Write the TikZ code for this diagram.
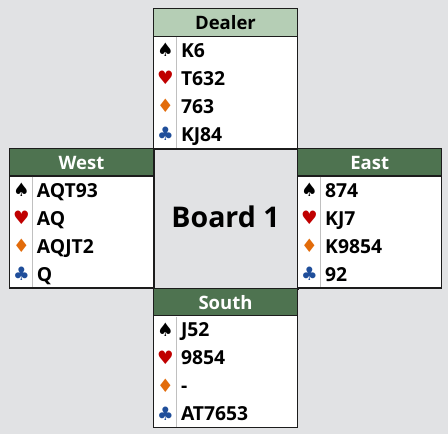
\documentclass[tikz,border=0pt]{standalone}
\usepackage{fontspec}
\setmainfont{Open Sans}
\newfontfamily\suitfont{DejaVu Sans}
\definecolor{bgc}{HTML}{E1E2E4}
\definecolor{lgreen}{HTML}{B5CEB5}
\definecolor{dgreen}{HTML}{4E7350}
\definecolor{heartc}{HTML}{C00000}
\definecolor{diamc}{HTML}{E26B0A}
\definecolor{clubc}{HTML}{1F4E9A}
\definecolor{edgec}{HTML}{1C1C1C}
\definecolor{divc}{HTML}{C0C0C0}
\tikzset{
  cardbox/.style={draw=edgec, line width=1.3pt, fill=white, minimum width=144.3pt, minimum height=139.5pt, inner sep=0pt, outer sep=0pt},
  headbox/.style={draw=edgec, line width=1.3pt, minimum width=144.3pt, minimum height=27.5pt, inner sep=0pt, outer sep=0pt},
  lighthead/.style={fill=lgreen},
  darkhead/.style={fill=dgreen},
  lightheadlab/.style={text=black},
  darkheadlab/.style={text=white},
  labtext/.style={inner sep=0pt, font=\fontsize{18.5}{18.5}\selectfont\bfseries},
  cards/.style={inner sep=0pt, font=\fontsize{19.3}{19.3}\selectfont\bfseries},
  suit/.style={inner sep=0pt, font=\suitfont\fontsize{18.5}{18.5}\selectfont},
  divider/.style={draw=divc, line width=1pt},
}
\newcommand\hand[9]{%
  \node[cardbox, anchor=north west] (#1box) at (#2,#3) {};
  \node[headbox, #5, anchor=north west] (#1head) at (#2,#3) {};
  \draw[divider] (#2+23,#3+28.2) -- (#2+23,#3+138.8);
  \node[labtext, #5lab, anchor=base] (#1lab) at (#2+72.2,#3+20.8) {#4};
  \node[suit, text=black]  (#1ss) at (#2+12,#3+41.5) {♠};
  \node[suit, text=heartc] (#1hs) at (#2+12,#3+69.5) {♥};
  \node[suit, text=diamc]  (#1ds) at (#2+12,#3+97.5) {♦};
  \node[suit, text=clubc]  (#1cs) at (#2+12,#3+125.5) {♣};
  \node[cards, anchor=base west] (#1sc) at (#2+27.5,#3+48.5) {#6};
  \node[cards, anchor=base west] (#1hc) at (#2+27.5,#3+76.5) {#7};
  \node[cards, anchor=base west] (#1dc) at (#2+27.5,#3+104.5) {#8};
  \node[cards, anchor=base west] (#1cc) at (#2+27.5,#3+132.5) {#9};
  \draw[draw=edgec, line width=1.3pt] (#1box.north west) rectangle (#1box.south east);
}
\begin{document}
\begin{tikzpicture}[x=1pt,y=-1pt]
\fill[bgc] (0,0) rectangle (448,434);
\useasboundingbox (0,0) rectangle (448,434);
\node[draw=edgec, line width=1.3pt, fill=bgc, minimum width=144.3pt, minimum height=140pt, inner sep=0pt, anchor=north west] (center) at (153.3,148.3) {};
\node[inner sep=0pt, anchor=base, font=\fontsize{28.5}{28.5}\selectfont\bfseries] (board) at (225.5,227.5) {Board 1};
\hand{north}{153.3}{8.7}{Dealer}{lighthead}{K6}{T632}{763}{KJ84}
\hand{west}{9.3}{148.5}{West}{darkhead}{AQT93}{AQ}{AQJT2}{Q}
\hand{east}{297.5}{148.5}{East}{darkhead}{874}{KJ7}{K9854}{92}
\hand{south}{153.3}{288.3}{South}{darkhead}{J52}{9854}{-}{AT7653}
\end{tikzpicture}
\end{document}
